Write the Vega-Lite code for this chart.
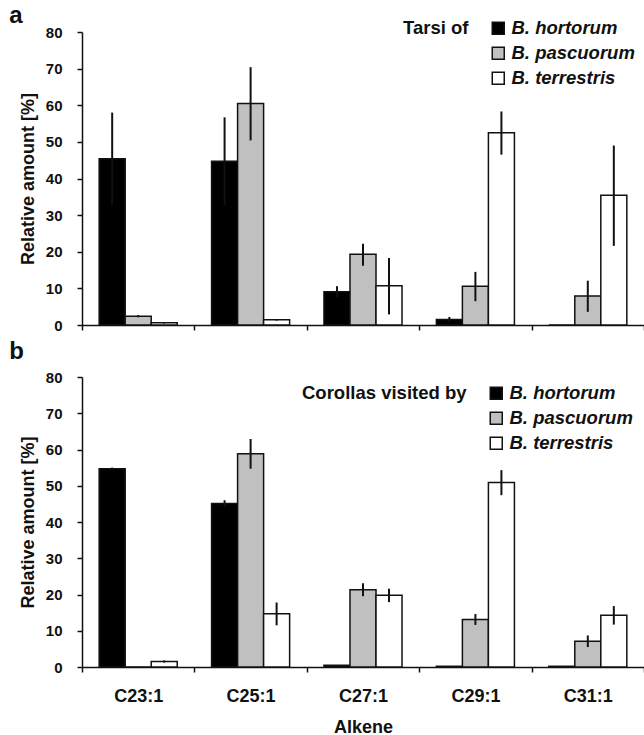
{
  "$schema": "https://vega.github.io/schema/vega-lite/v6.json",
  "padding": {"left": 9, "top": 4, "right": 0, "bottom": 0},
  "background": "white",
  "spacing": 7,
  "data": {"values": [
    {"panel": "a", "alkene": "C23:1", "species": "B. hortorum", "value": 45.4, "lo": 32.8, "hi": 58.0},
    {"panel": "a", "alkene": "C23:1", "species": "B. pascuorum", "value": 2.4, "lo": 2.1, "hi": 2.7},
    {"panel": "a", "alkene": "C23:1", "species": "B. terrestris", "value": 0.6, "lo": 0.4, "hi": 0.8},
    {"panel": "a", "alkene": "C25:1", "species": "B. hortorum", "value": 44.7, "lo": 32.7, "hi": 56.7},
    {"panel": "a", "alkene": "C25:1", "species": "B. pascuorum", "value": 60.5, "lo": 50.4, "hi": 70.4},
    {"panel": "a", "alkene": "C25:1", "species": "B. terrestris", "value": 1.4, "lo": 1.2, "hi": 1.6},
    {"panel": "a", "alkene": "C27:1", "species": "B. hortorum", "value": 9.1, "lo": 7.6, "hi": 10.6},
    {"panel": "a", "alkene": "C27:1", "species": "B. pascuorum", "value": 19.3, "lo": 16.2, "hi": 22.2},
    {"panel": "a", "alkene": "C27:1", "species": "B. terrestris", "value": 10.7, "lo": 2.9, "hi": 18.3},
    {"panel": "a", "alkene": "C29:1", "species": "B. hortorum", "value": 1.5, "lo": 0.8, "hi": 2.2},
    {"panel": "a", "alkene": "C29:1", "species": "B. pascuorum", "value": 10.6, "lo": 6.5, "hi": 14.5},
    {"panel": "a", "alkene": "C29:1", "species": "B. terrestris", "value": 52.5, "lo": 46.5, "hi": 58.3},
    {"panel": "a", "alkene": "C31:1", "species": "B. hortorum", "value": 0, "lo": 0, "hi": 0},
    {"panel": "a", "alkene": "C31:1", "species": "B. pascuorum", "value": 7.9, "lo": 3.6, "hi": 12.1},
    {"panel": "a", "alkene": "C31:1", "species": "B. terrestris", "value": 35.4, "lo": 21.6, "hi": 49.0},
    {"panel": "b", "alkene": "C23:1", "species": "B. hortorum", "value": 54.7, "lo": 54.4, "hi": 55.0},
    {"panel": "b", "alkene": "C23:1", "species": "B. pascuorum", "value": 0, "lo": 0, "hi": 0},
    {"panel": "b", "alkene": "C23:1", "species": "B. terrestris", "value": 1.5, "lo": 1.2, "hi": 1.8},
    {"panel": "b", "alkene": "C25:1", "species": "B. hortorum", "value": 45.1, "lo": 44.2, "hi": 46.0},
    {"panel": "b", "alkene": "C25:1", "species": "B. pascuorum", "value": 58.8, "lo": 54.7, "hi": 62.9},
    {"panel": "b", "alkene": "C25:1", "species": "B. terrestris", "value": 14.7, "lo": 11.5, "hi": 17.8},
    {"panel": "b", "alkene": "C27:1", "species": "B. hortorum", "value": 0.5, "lo": 0.5, "hi": 0.5},
    {"panel": "b", "alkene": "C27:1", "species": "B. pascuorum", "value": 21.3, "lo": 19.5, "hi": 23.1},
    {"panel": "b", "alkene": "C27:1", "species": "B. terrestris", "value": 19.8, "lo": 17.9, "hi": 21.6},
    {"panel": "b", "alkene": "C29:1", "species": "B. hortorum", "value": 0.2, "lo": 0.2, "hi": 0.2},
    {"panel": "b", "alkene": "C29:1", "species": "B. pascuorum", "value": 13.1, "lo": 11.6, "hi": 14.6},
    {"panel": "b", "alkene": "C29:1", "species": "B. terrestris", "value": 50.9, "lo": 47.4, "hi": 54.3},
    {"panel": "b", "alkene": "C31:1", "species": "B. hortorum", "value": 0.2, "lo": 0.2, "hi": 0.2},
    {"panel": "b", "alkene": "C31:1", "species": "B. pascuorum", "value": 7.1, "lo": 5.5, "hi": 8.7},
    {"panel": "b", "alkene": "C31:1", "species": "B. terrestris", "value": 14.3, "lo": 11.7, "hi": 16.8}
  ]},
  "config": {
    "view": {"stroke": null},
    "font": "Liberation Sans",
    "axis": {"domainColor": "#111111", "domainWidth": 1.5, "tickColor": "#111111", "tickWidth": 1.5, "tickSize": 5, "grid": false, "labelFont": "Liberation Sans", "labelFontWeight": "bold", "labelColor": "#111111", "titleFont": "Liberation Sans", "titleFontWeight": "bold", "titleColor": "#111111", "labelOverlap": false},
    "axisY": {"values": [0, 10, 20, 30, 40, 50, 60, 70, 80], "titleFontSize": 18, "labelFontSize": 15, "labelPadding": 15, "titlePadding": 8},
    "legend": {"titleFont": "Liberation Sans", "labelFont": "Liberation Sans", "titleColor": "#111111", "labelColor": "#111111", "orient": "none", "titleOrient": "left", "titleAnchor": "start", "titleFontSize": 18.5, "titleFontWeight": "bold", "titlePadding": 20, "labelFontSize": 18.5, "labelFontStyle": "italic", "labelFontWeight": "bold", "symbolType": "square", "symbolSize": 144, "symbolStrokeColor": "#111111", "symbolStrokeWidth": 1.5, "symbolOpacity": 1, "labelOffset": 4, "rowPadding": 6},
    "title": {"font": "Liberation Sans", "fontSize": 24, "fontWeight": "bold", "anchor": "start", "frame": "bounds", "dx": -10, "color": "#111111"}
  },
  "vconcat": [
    {
      "title": {"text": "a", "offset": -9},
      "width": 562,
      "height": 293,
      "transform": [{"filter": "datum.panel == 'a'"}],
      "encoding": {
        "x": {"field": "alkene", "type": "nominal", "sort": null, "scale": {"paddingInner": 0, "paddingOuter": 0}, "axis": {"labels": false, "title": null, "tickBand": "extent"}},
        "xOffset": {"field": "species", "type": "nominal", "sort": ["B. hortorum", "B. pascuorum", "B. terrestris"], "scale": {"paddingInner": 0, "paddingOuter": 0.66}}
      },
      "layer": [
        {
          "mark": {"type": "bar", "stroke": "#111111", "strokeWidth": 1.5},
          "encoding": {
            "y": {"field": "value", "type": "quantitative", "scale": {"domain": [0, 80]}, "axis": {"title": "Relative amount [%]"}},
            "fill": {"field": "species", "type": "nominal", "scale": {"domain": ["B. hortorum", "B. pascuorum", "B. terrestris"], "range": ["#000000", "#c0c0c0", "#ffffff"]},
              "legend": {"legendX": 321, "legendY": -13, "title": "Tarsi of"}}
          }
        },
        {
          "mark": {"type": "rule", "strokeWidth": 2, "color": "#111111"},
          "encoding": {"y": {"field": "lo", "type": "quantitative", "axis": {"title": "Relative amount [%]"}}, "y2": {"field": "hi"}}
        }
      ]
    },
    {
      "title": {"text": "b", "offset": 6},
      "width": 562,
      "height": 290,
      "transform": [{"filter": "datum.panel == 'b'"}],
      "encoding": {
        "x": {"field": "alkene", "type": "nominal", "sort": null, "scale": {"paddingInner": 0, "paddingOuter": 0}, "axis": {"labelAngle": 0, "labelFontSize": 18, "labelPadding": 15, "title": "Alkene", "titleFontSize": 18, "titlePadding": 13, "tickBand": "extent"}},
        "xOffset": {"field": "species", "type": "nominal", "sort": ["B. hortorum", "B. pascuorum", "B. terrestris"], "scale": {"paddingInner": 0, "paddingOuter": 0.66}}
      },
      "layer": [
        {
          "mark": {"type": "bar", "stroke": "#111111", "strokeWidth": 1.5},
          "encoding": {
            "y": {"field": "value", "type": "quantitative", "scale": {"domain": [0, 80]}, "axis": {"title": "Relative amount [%]"}},
            "fill": {"field": "species", "type": "nominal", "scale": {"domain": ["B. hortorum", "B. pascuorum", "B. terrestris"], "range": ["#000000", "#c0c0c0", "#ffffff"]},
              "legend": {"legendX": 220, "legendY": 7, "title": "Corollas visited by"}}
          }
        },
        {
          "mark": {"type": "rule", "strokeWidth": 2, "color": "#111111"},
          "encoding": {"y": {"field": "lo", "type": "quantitative", "axis": {"title": "Relative amount [%]"}}, "y2": {"field": "hi"}}
        }
      ]
    }
  ],
  "resolve": {"scale": {"fill": "independent"}, "legend": {"fill": "independent"}}
}
